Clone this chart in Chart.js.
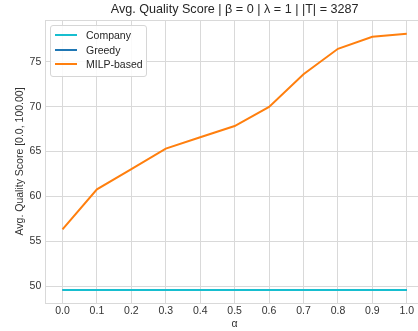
<!DOCTYPE html>
<html>
<head>
<meta charset="utf-8">
<script src="https://cdn.jsdelivr.net/npm/chart.js@4/dist/chart.umd.min.js"></script>
<style>
  html, body { margin: 0; padding: 0; background: #fff; }
  #wrap { position: relative; width: 418px; height: 331px; overflow: hidden; }
  #chart { position: absolute; left: 0; top: 0; }
  #legend {
    position: absolute; left: 50px; top: 25px; width: 95px; height: 50px;
    border: 1px solid #d6d6d6; border-radius: 3px; background: rgba(255,255,255,0.85);
    font-family: "Liberation Sans", Arial, sans-serif; font-size: 10.5px; color: #262626;
  }
  .item { position: absolute; left: 0; height: 14px; width: 95px; }
  .item .ln { position: absolute; left: 4px; width: 22px; height: 2px; top: 6px; }
  .item .tx { position: absolute; left: 35px; top: 0; line-height: 14px; }
</style>
</head>
<body>
<div id="wrap">
  <canvas id="chart" width="426" height="331"></canvas>
  <div id="legend"></div>
</div>
<script>
// data
const alphas = [0.0, 0.1, 0.2, 0.3, 0.4, 0.5, 0.6, 0.7, 0.8, 0.9, 1.0];
const companyScores = [49.6, 49.6, 49.6, 49.6, 49.6, 49.6, 49.6, 49.6, 49.6, 49.6, 49.6];
const greedyScores = [49.6, 49.6, 49.6, 49.6, 49.6, 49.6, 49.6, 49.6, 49.6, 49.6, 49.6];
const milpScores = [56.35, 60.8, 63.05, 65.33, 66.6, 67.84, 69.97, 73.6, 76.44, 77.77, 78.1];
const xTicks = [0.0, 0.1, 0.2, 0.3, 0.4, 0.5, 0.6, 0.7, 0.8, 0.9, 1.0];
const yTicks = [50, 55, 60, 65, 70, 75];
const seriesNames = ['Company', 'Greedy', 'MILP-based'];
const seriesColors = ['#17becf', '#1f77b4', '#ff7f0e'];

const gridColor = '#d9d9d9';
const textColor = '#333333';
const fontFamily = '"Liberation Sans", Arial, sans-serif';

function pts(vals){ return alphas.map((a, i) => ({ x: a, y: vals[i] })); }

const seriesData = [companyScores, greedyScores, milpScores];
const datasets = seriesNames.map((name, i) => ({
  label: name,
  data: pts(seriesData[i]),
  borderColor: seriesColors[i],
  backgroundColor: seriesColors[i],
  borderWidth: 2,
  pointRadius: 0,
  tension: 0
}));

// frame round the plot area (top and right spines too)
const frame = {
  id: 'frame',
  afterDraw(chart){
    const a = chart.chartArea, ctx = chart.ctx;
    ctx.save();
    ctx.strokeStyle = gridColor;
    ctx.lineWidth = 1;
    ctx.strokeRect(Math.round(a.left) + 0.5, Math.round(a.top) + 0.5, Math.round(a.right - a.left), Math.round(a.bottom - a.top));
    ctx.restore();
  }
};

new Chart(document.getElementById('chart'), {
  type: 'line',
  data: { datasets: datasets },
  plugins: [frame],
  options: {
    responsive: false,
    animation: false,
    layout: { autoPadding: false, padding: { left: 9, right: 2, top: 0, bottom: 0 } },
    plugins: {
      legend: { display: false },
      tooltip: { enabled: false },
      title: {
        display: true,
        fullSize: false,
        text: 'Avg. Quality Score | β = 0 | λ = 1 | |T| = 3287',
        color: '#262626',
        font: { family: fontFamily, size: 12.6, weight: 'normal' },
        padding: { top: 2, bottom: 3 }
      }
    },
    scales: {
      x: {
        type: 'linear',
        min: -0.05,
        max: 1.05,
        afterBuildTicks(axis){ axis.ticks = xTicks.map(v => ({ value: v })); },
        ticks: {
          color: textColor,
          font: { family: fontFamily, size: 10.5 },
          padding: 2,
          maxRotation: 0,
          callback: v => Number(v).toFixed(1)
        },
        grid: { color: gridColor, drawTicks: false, tickLength: 0 },
        border: { display: false },
        title: {
          display: true, text: 'α', color: textColor,
          font: { family: fontFamily, size: 10.5 },
          padding: { top: -2, bottom: 1 }
        }
      },
      y: {
        type: 'linear',
        min: 48.17,
        max: 79.63,
        afterBuildTicks(axis){ axis.ticks = yTicks.map(v => ({ value: v })); },
        ticks: {
          color: textColor,
          font: { family: fontFamily, size: 10.5 },
          padding: 4
        },
        grid: { color: gridColor, drawTicks: false, tickLength: 0 },
        border: { display: false },
        title: {
          display: true, text: 'Avg. Quality Score [0.0, 100.00]', color: textColor,
          font: { family: fontFamily, size: 10.5 },
          padding: { top: 5, bottom: -1 }
        }
      }
    }
  }
});

// legend box drawn as html, inside the axes like the reference
const legend = document.getElementById('legend');
seriesNames.forEach((name, i) => {
  const row = document.createElement('div');
  row.className = 'item';
  row.style.top = (2 + i * 14.5) + 'px';
  row.innerHTML = '<div class="ln" style="background:' + seriesColors[i] + '"></div><div class="tx">' + name + '</div>';
  legend.appendChild(row);
});
</script>
</body>
</html>
